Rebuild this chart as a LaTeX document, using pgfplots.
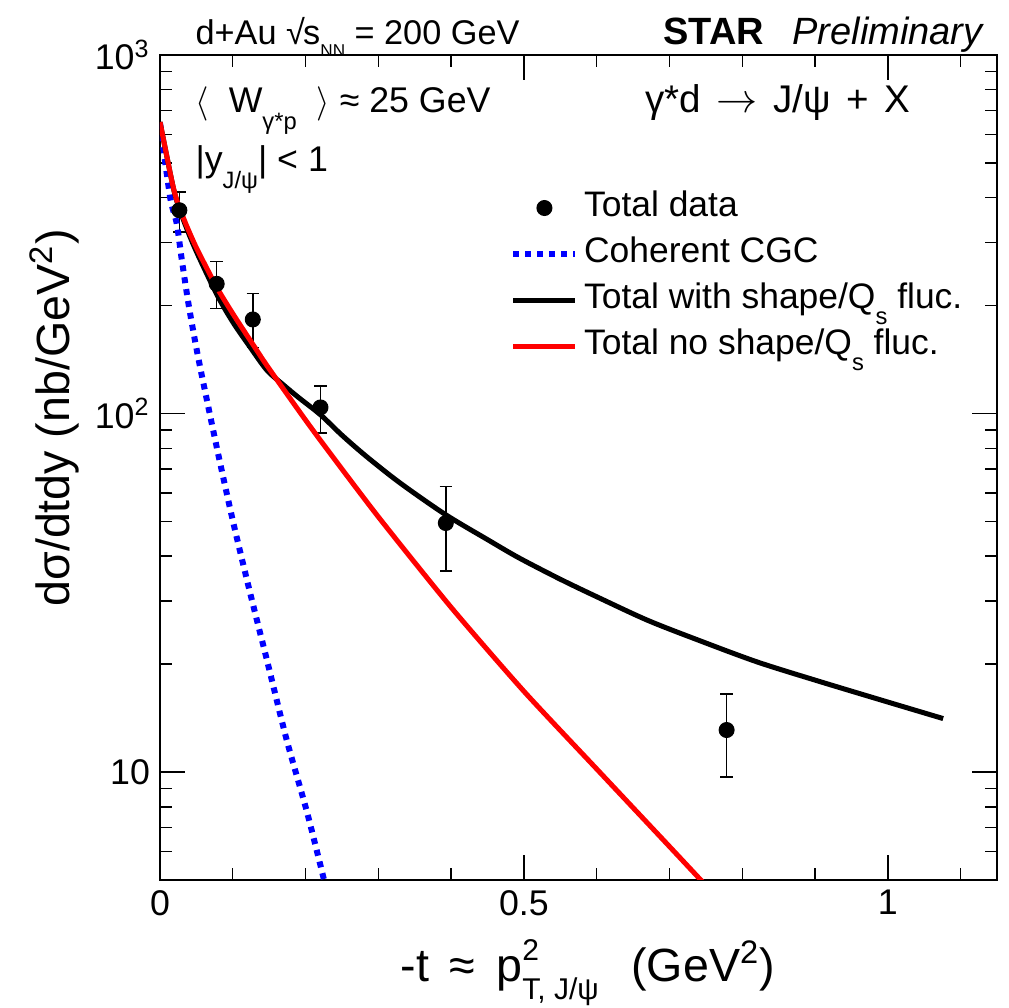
\documentclass[border=0pt]{standalone}
\usepackage{pgfplots}
\pgfplotsset{compat=1.18}
\usepackage{fontspec}
\setmainfont{Liberation Sans}
\newcommand\lsub[1]{\raisebox{-0.45em}{\fontsize{8.3}{8.3}\selectfont #1}}
\newcommand\tsize{\fontsize{12.4}{13}\selectfont}
\pgfplotsset{
  lineleg/.style={legend image code/.code={\draw[##1] (0pt,0pt) -- (21.7pt,0pt);}},
  dotleg/.style={legend image code/.code={\draw[mark repeat=2, mark phase=2, ##1] plot coordinates {(0pt,0pt) (10.85pt,0pt) (21.7pt,0pt)};}},
}

\pgfplotstableread{
x y ep em
0.0266 369 46 48
0.0779 230 35 34
0.1275 183 33 30
0.2205 104 15.4 15.7
0.3927 49.5 13.2 13.1
0.7785 13.1 3.4 3.4
}\datatab

\begin{document}
\begin{tikzpicture}
\useasboundingbox (-56pt,-44.8pt) rectangle (296.8pt,308pt);
\begin{axis}[
  at={(0pt,0pt)}, anchor=south west,
  scale only axis, width=292.95pt, height=288.75pt,
  xmin=0, xmax=1.15, ymin=5, ymax=1000, ymode=log,
  axis line style={line width=0.8pt},
  xtick={0,0.5,1}, xticklabels={0,0.5,1},
  minor xtick={0.1,0.2,0.3,0.4,0.6,0.7,0.8,0.9,1.1},
  ytick={10,100,1000}, yticklabels={10,10\textsuperscript{2},10\textsuperscript{3}},
  minor ytick={6,7,8,9,20,30,40,50,60,70,80,90,200,300,400,500,600,700,800,900},
  major tick length=8.75pt, minor tick length=4.2pt,
  every tick/.style={line width=0.5pt, black},
  tick align=inside,
  ticklabel style={font=\fontsize{12.5}{13}\selectfont},
  legend cell align=left,
  legend style={at={(axis description cs:0.418,0.836)}, anchor=north west,
    draw=none, fill=none, inner sep=0pt, row sep=4.1pt, column sep=2pt,
    font=\tsize, nodes={inner sep=0pt, text height=9pt, text depth=3pt}},
]
\addplot+[only marks, mark=*, mark size=2.6pt, black, mark options={black, fill=black}, dotleg,
  error bars/.cd, y dir=both, y explicit,
  error bar style={line width=0.5pt, black},
  error mark options={rotate=90, line width=0.5pt, mark size=2.2pt, black},
  ] table[x=x, y=y, y error plus=ep, y error minus=em] {\datatab};
\addlegendentry{Total data}

\addplot[blue, line width=2.1pt, dash pattern=on 2.1pt off 2.1pt, line cap=butt, lineleg, smooth, tension=0.4]
  coordinates {
  (0,645) (0.014,400) (0.023,339) (0.030,268) (0.039,203) (0.048,160) (0.057,129)
  (0.080,77) (0.101,49.3) (0.124,31.5) (0.147,20.5) (0.174,12.3) (0.2015,7.8) (0.2265,4.9)
  };
\addlegendentry{Coherent CGC}

\addplot[black, line width=1.75pt, lineleg, smooth, tension=0.5]
  coordinates {
  (0,650) (0.016,448) (0.023,392) (0.035,335) (0.05,283) (0.078,215) (0.1,180)
  (0.124,153) (0.147,132) (0.17,120) (0.19,111) (0.221,99) (0.25,87) (0.284,75.8)
  (0.33,64) (0.392,52.3) (0.45,44.5) (0.493,39.6) (0.55,34.5) (0.602,30.7) (0.67,26.5)
  (0.738,23.4) (0.82,20.3) (0.902,18.0) (0.99,15.9) (1.076,14.1)
  };
\addlegendentry{Total with shape/Q\lsub{s} fluc.}

\addplot[red, line width=1.75pt, lineleg, smooth, tension=0.4]
  coordinates {
  (0,650) (0.016,448) (0.023,394) (0.035,340) (0.05,290) (0.078,225) (0.1,190)
  (0.124,160) (0.147,136) (0.192,101) (0.224,82.3) (0.3,51.5) (0.4,28.8) (0.5,16.8)
  (0.6,10.2) (0.7,6.2) (0.743,5.0) (0.76,4.6)
  };
\addlegendentry{Total no shape/Q\lsub{s} fluc.}
\end{axis}

\node[anchor=base west, font=\fontsize{12}{13}\selectfont, inner sep=0pt] at (12.25pt,292.25pt)
  {d+Au √\kern-0.05em s\raisebox{-0.35em}{\fontsize{6}{6}\selectfont NN} = 200 GeV};
\node[anchor=base east, font=\fontsize{13.3}{14}\selectfont, inner sep=0pt] at (288.75pt,292.25pt)
  {\textbf{STAR}\hspace{0.75em}\textit{Preliminary}};
\node[anchor=base west, font=\fontsize{12.5}{13}\selectfont, inner sep=0pt] at (12.25pt,268.45pt)
  {$\big\langle$\ \ W\lsub{γ*p}\ \ $\big\rangle$ ≈ 25 GeV};
\node[anchor=base west, font=\fontsize{13.5}{14}\selectfont, inner sep=0pt] at (169.75pt,268.45pt)
  {γ*d\hspace{0.4em}$\rightarrow$\hspace{0.4em}J/ψ\hspace{0.4em}+\hspace{0.4em}X};
\node[anchor=base west, font=\fontsize{12.5}{13}\selectfont, inner sep=0pt] at (12.25pt,247.8pt)
  {|y\lsub{J/ψ}| < 1};

\node[anchor=base, rotate=90, font=\fontsize{16.3}{17}\selectfont] at (-31.5pt,161.7pt)
  {dσ/dtdy (nb/GeV\textsuperscript{2})};
\node[anchor=base west, inner sep=0pt, font=\fontsize{16.3}{17}\selectfont] at (84pt,-35.5pt)
  {-t\hspace{0.45em}≈\hspace{0.45em}p\makebox[0pt][l]{\raisebox{0.45em}{\fontsize{10.5}{10.5}\selectfont 2}}\raisebox{-0.38em}{\fontsize{10.5}{10.5}\selectfont T, J/ψ}\hspace{0.7em}(GeV\textsuperscript{2})};
\end{tikzpicture}
\end{document}
